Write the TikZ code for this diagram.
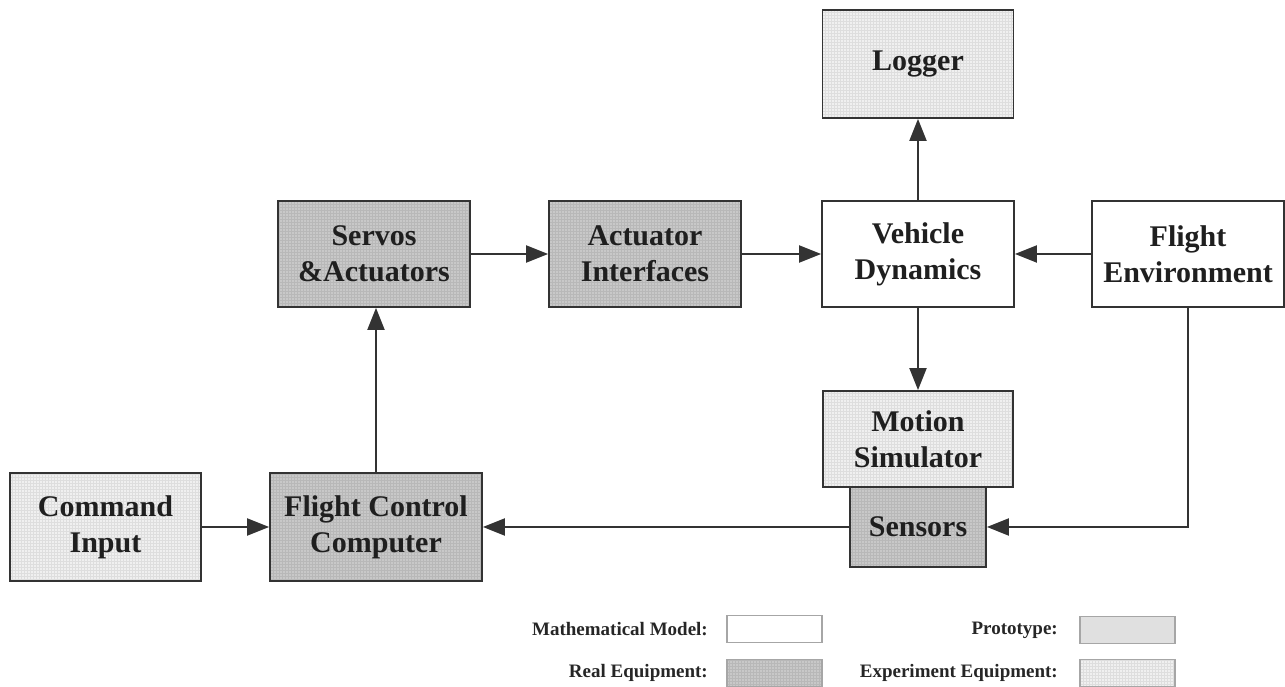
\documentclass[tikz,border=0pt]{standalone}
\usepackage{fontspec}
\setmainfont{Liberation Serif}
\usetikzlibrary{arrows.meta,patterns}
\definecolor{edge}{HTML}{333333}
\definecolor{realfill}{HTML}{C8C8C8}
\definecolor{realgrid}{HTML}{B8B8B8}
\definecolor{expfill}{HTML}{F0F0F0}
\definecolor{expgrid}{HTML}{DEDEDE}
\definecolor{protofill}{HTML}{E0E0E0}
\tikzset{
  box/.style={draw=edge, line width=1.8pt, align=center, inner sep=0pt,
    minimum width=192pt, minimum height=108pt,
    font=\fontsize{30}{36}\selectfont\bfseries, text=black!88},
  mathbox/.style={box, fill=white},
  realbox/.style={box, preaction={fill=realfill}, pattern=grid, pattern color=realgrid},
  expbox/.style={box, preaction={fill=expfill}, pattern=grid, pattern color=expgrid},
  protobox/.style={box, fill=protofill},
  conn/.style={draw=edge, line width=2pt, -{Triangle[length=22pt,width=17pt]}},
  legtext/.style={anchor=east, inner sep=0pt, font=\fontsize{19}{22}\selectfont\bfseries, text=black!85},
  legbox/.style={line width=1.2pt, minimum width=95pt, minimum height=27pt, font=\tiny, draw=gray!70}
}
\begin{document}
\begin{tikzpicture}[x=1pt,y=1pt]
\useasboundingbox (0,0) rectangle (1285,687);
% main blocks
\node[expbox, minimum width=191pt] (log) at (918,623) {Logger};
\node[realbox, minimum height=106pt] (serv) at (374,433) {Servos\\\&Actuators};
\node[realbox, minimum height=106pt] (act) at (645,433) {Actuator\\Interfaces};
\node[mathbox, minimum height=106pt] (vd) at (918,433) {Vehicle\\Dynamics};
\node[mathbox, minimum height=106pt] (fe) at (1188,433) {Flight\\Environment};
\node[expbox, minimum width=190pt, minimum height=96pt] (ms) at (918,248) {Motion\\Simulator};
\node[realbox, minimum width=136pt, minimum height=80pt] (sens) at (918,160) {Sensors};
\node[expbox, minimum width=191pt] (cmd) at (105.5,160) {Command\\Input};
\node[realbox, minimum width=212pt] (fcc) at (376,160) {Flight Control\\Computer};
% connectors
\draw[conn] (vd.north) -- (log.south);
\draw[conn] (serv.east) -- (act.west);
\draw[conn] (act.east) -- (vd.west);
\draw[conn] (fe.west) -- (vd.east);
\draw[conn] (vd.south) -- (ms.north);
\draw[conn] (fcc.north) -- (fcc.north |- serv.south);
\draw[conn] (cmd.east) -- (fcc.west);
\draw[conn] (sens.west) -- (fcc.east);
\draw[conn] (fe.south) |- (sens.east);
% legend
\node[legtext] (lm) at (708,58) {Mathematical Model:};
\node[legbox, fill=white] (bm) at (774.5,58) {};
\node[legtext] (lp) at (1058,57) {Prototype:};
\node[legbox, fill=protofill] (bp) at (1127.5,57) {};
\node[legtext] (lr) at (708,14) {Real Equipment:};
\node[legbox, preaction={fill=realfill}, pattern=grid, pattern color=realgrid] (br) at (774.5,14) {};
\node[legtext] (le) at (1058,14) {Experiment Equipment:};
\node[legbox, preaction={fill=expfill}, pattern=grid, pattern color=expgrid] (be) at (1127.5,14) {};
\end{tikzpicture}
\end{document}
